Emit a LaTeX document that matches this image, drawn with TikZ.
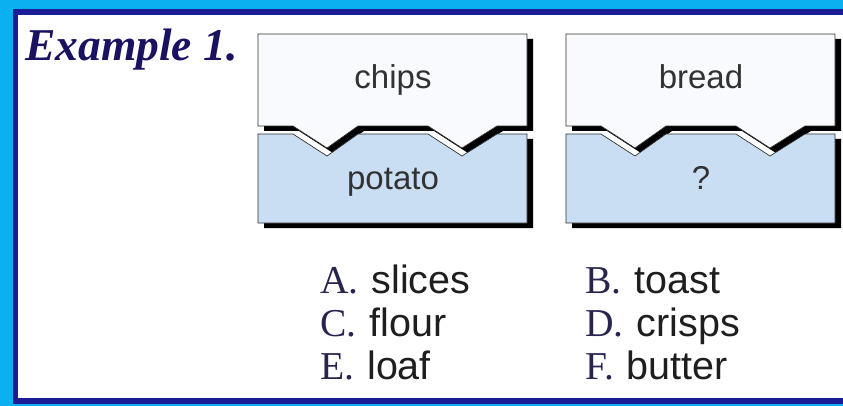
\documentclass[tikz,border=0pt]{standalone}
\usepackage{fontspec}
\setmainfont{Liberation Serif}
\newfontfamily\piecefont{Liberation Sans}
\definecolor{skyrim}{RGB}{10,176,240}
\definecolor{navyrim}{RGB}{28,28,150}
\definecolor{titleink}{RGB}{26,18,96}
\definecolor{letterink}{RGB}{40,36,80}
\definecolor{wordink}{RGB}{30,30,30}
\definecolor{pieceink}{RGB}{50,50,50}
\definecolor{toppiece}{RGB}{248,250,253}
\definecolor{basepiece}{RGB}{201,221,243}
\tikzset{
  shade piece/.style={fill=black,draw=none},
  top piece/.style={fill=toppiece,draw=pieceink,line width=0.7pt},
  base piece/.style={fill=basepiece,draw=pieceink,line width=0.7pt},
  word/.style={font=\piecefont\fontsize{33}{36}\selectfont,text=pieceink,anchor=base},
  choice/.style={anchor=base west,inner sep=0pt,text=wordink,
    font=\fontsize{39.5}{43}\selectfont}
}
\newcommand{\opt}[2]{\textcolor{letterink}{#1.}\hspace{0.33em}{\piecefont #2}}
\begin{document}
\begin{tikzpicture}[x=1pt,y=-1pt]
  \useasboundingbox (0,0) rectangle (843,406);
  \clip (0,0) rectangle (843,406);
  % frame
  \fill[skyrim] (0,0) rectangle (843,406);
  \draw[navyrim,fill=white,line width=5.5pt] (15.5,11.8) rectangle (870,401);
  \node[anchor=base west,inner sep=0pt,text=titleink,
    font=\bfseries\itshape\fontsize{45.5}{48}\selectfont] (title) at (25,61) {Example 1.};
  % the two jigsaw pairs
  \foreach \dx/\up/\down [count=\i] in {258/chips/potato,566/bread/?} {
    \begin{scope}[xshift=\dx]
      \fill[shade piece,shift={(6,5)}] (0,34) -- (269,34) -- (269,126) -- (239,126)
        -- (204,148) -- (170,126) -- (100,126) -- (69,148) -- (35,126) -- (0,126) -- cycle;
      \draw[top piece] (0,34) -- (269,34) -- (269,126) -- (239,126)
        -- (204,148) -- (170,126) -- (100,126) -- (69,148) -- (35,126) -- (0,126) -- cycle;
      \fill[shade piece,shift={(6,5)}] (0,134) -- (35,134) -- (69,156) -- (100,134)
        -- (170,134) -- (204,156) -- (239,134) -- (269,134) -- (269,223) -- (0,223) -- cycle;
      \draw[base piece] (0,134) -- (35,134) -- (69,156) -- (100,134)
        -- (170,134) -- (204,156) -- (239,134) -- (269,134) -- (269,223) -- (0,223) -- cycle;
      \node[word] (up\i) at (135,89) {\up};
      \node[word] (down\i) at (135,190) {\down};
    \end{scope}
  }
  % answer choices
  \node[choice] (optA) at (320,293) {\opt{A}{slices}};
  \node[choice] (optC) at (320,336) {\opt{C}{flour}};
  \node[choice] (optE) at (320,379) {\opt{E}{loaf}};
  \node[choice] (optB) at (585,293) {\opt{B}{toast}};
  \node[choice] (optD) at (585,336) {\opt{D}{crisps}};
  \node[choice] (optF) at (585,379) {\opt{F}{butter}};
\end{tikzpicture}
\end{document}
